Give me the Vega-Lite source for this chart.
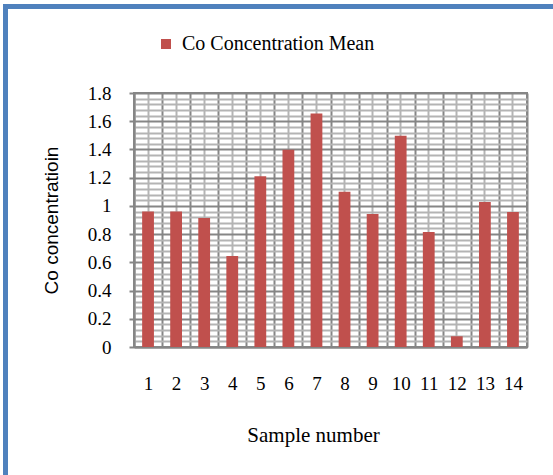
{
  "$schema": "https://vega.github.io/schema/vega-lite/v6.json",
  "width": 393,
  "height": 254,
  "autosize": {"type": "none"},
  "padding": {"left": 134, "top": 93, "right": 26, "bottom": 128},
  "background": "white",
  "config": {
    "view": {"stroke": "#868686", "strokeWidth": 2},
    "legend": {"strokeWidth": 5}
  },
  "data": {
    "values": [
      {"sample": "1", "value": 0.96},
      {"sample": "2", "value": 0.96},
      {"sample": "3", "value": 0.915},
      {"sample": "4", "value": 0.645},
      {"sample": "5", "value": 1.21},
      {"sample": "6", "value": 1.397},
      {"sample": "7", "value": 1.655},
      {"sample": "8", "value": 1.1},
      {"sample": "9", "value": 0.943},
      {"sample": "10", "value": 1.497},
      {"sample": "11", "value": 0.815},
      {"sample": "12", "value": 0.076},
      {"sample": "13", "value": 1.028},
      {"sample": "14", "value": 0.957}
    ]
  },
  "layer": [
    {
      "mark": {"type": "bar", "opacity": 0, "width": {"band": 0.42}},
      "encoding": {
        "x": {
          "field": "sample", "type": "ordinal", "sort": null,
          "scale": {"paddingInner": 0, "paddingOuter": 0},
          "axis": {"orient": "top", "tickBand": "center", "grid": true, "gridColor": "#b4b4b4", "gridWidth": 2,
                   "labels": false, "ticks": false, "domain": false, "title": null}
        },
        "y": {
          "field": "value", "type": "quantitative",
          "scale": {"domain": [0, 1.8], "nice": false},
          "axis": {"orient": "right", "grid": true, "gridColor": "#b4b4b4", "gridWidth": 2,
                   "labels": false, "ticks": false, "domain": false, "title": null,
                   "values": [0.04, 0.08, 0.12, 0.16, 0.24, 0.28, 0.32, 0.36, 0.44, 0.48, 0.52, 0.56, 0.64, 0.68, 0.72, 0.76, 0.84, 0.88, 0.92, 0.96, 1.04, 1.08, 1.12, 1.16, 1.24, 1.28, 1.32, 1.36, 1.44, 1.48, 1.52, 1.56, 1.64, 1.68, 1.72, 1.76]}
        },
        "strokeDash": {
          "datum": "frame",
          "legend": {"title": null, "orient": "none", "legendX": -128.5, "legendY": -86.5, "padding": 400,
                     "strokeColor": "#4f81bd", "symbolOpacity": 0, "labelOpacity": 0}
        }
      }
    },
    {
      "mark": {"type": "bar", "width": {"band": 0.42}},
      "encoding": {
        "x": {
          "field": "sample", "type": "ordinal", "sort": null,
          "axis": {"orient": "bottom", "tickBand": "extent", "grid": true, "gridColor": "#868686", "gridWidth": 2,
                   "ticks": false, "tickSize": 0, "domainColor": "#868686", "domainWidth": 2,
                   "labelAngle": 0, "labelFont": "Liberation Serif", "labelFontSize": 19, "labelColor": "black", "labelPadding": 27,
                   "title": "Sample number", "titleFont": "Liberation Serif", "titleFontSize": 21, "titleFontWeight": "normal", "titleColor": "black",
                   "titleX": 179, "titleY": 94, "titleBaseline": "alphabetic", "titleAlign": "center"}
        },
        "y": {
          "field": "value", "type": "quantitative",
          "scale": {"domain": [0, 1.8], "nice": false},
          "axis": {"orient": "left", "values": [0, 0.2, 0.4, 0.6, 0.8, 1, 1.2, 1.4, 1.6, 1.8], "format": "~g",
                   "grid": true, "gridColor": "#868686", "gridWidth": 2,
                   "ticks": true, "tickSize": 5, "tickColor": "#868686", "tickWidth": 2,
                   "domainColor": "#868686", "domainWidth": 2,
                   "labelFont": "Liberation Serif", "labelFontSize": 19, "labelColor": "black", "labelPadding": 18,
                   "title": "Co concentratioin", "titleFont": "Liberation Sans", "titleFontSize": 19, "titleFontWeight": "normal", "titleColor": "black",
                   "titleX": -77, "titleY": 127, "titleAngle": -90, "titleBaseline": "alphabetic", "titleAlign": "center"}
        },
        "color": {
          "datum": "Co Concentration Mean",
          "scale": {"range": ["#c0504d"]},
          "legend": {"title": null, "orient": "none", "legendX": 22, "legendY": -59, "symbolType": "square", "symbolSize": 100,
                     "symbolStrokeWidth": 0, "labelFont": "Liberation Serif", "labelFontSize": 20, "labelColor": "black", "labelOffset": 6, "labelLimit": 0}
        }
      }
    }
  ],
  "resolve": {"axis": {"x": "independent", "y": "independent"}}
}
